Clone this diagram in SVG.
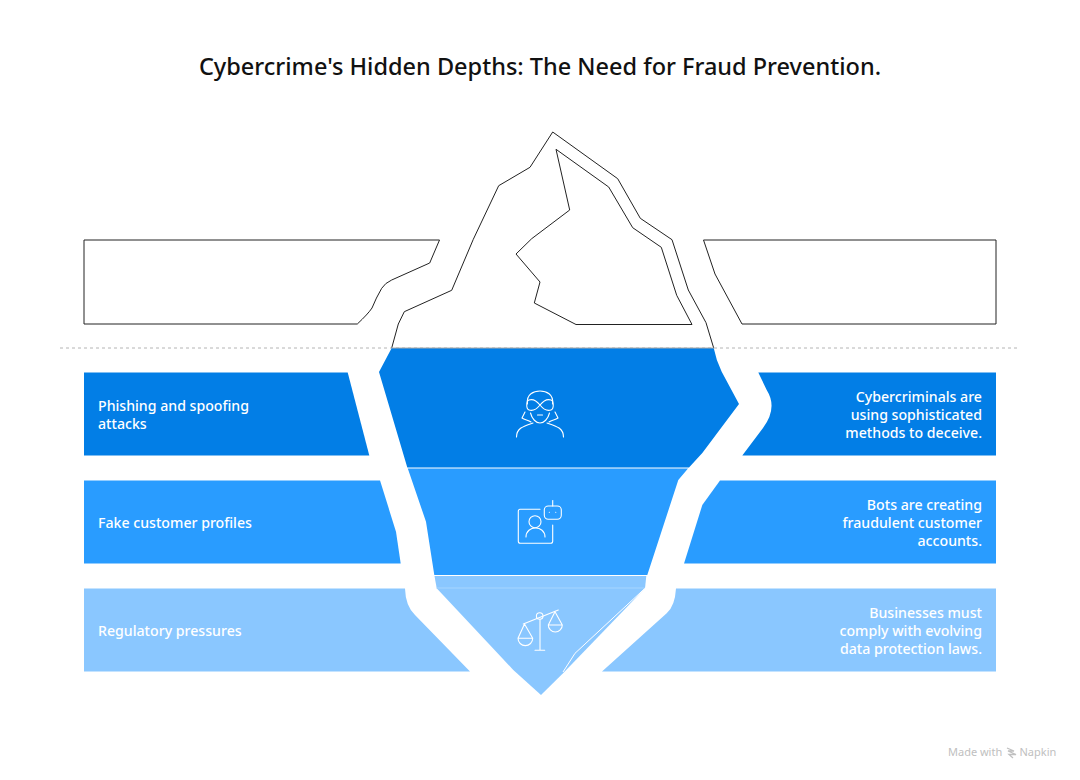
<svg xmlns="http://www.w3.org/2000/svg" width="1080" height="780" viewBox="0 0 1080 780">
<style>
text{font-family:"Noto Sans","Open Sans","DejaVu Sans",sans-serif}
.t{font-size:23.5px;fill:#111;text-anchor:middle;font-weight:500}
.l{font-size:14.15px;fill:#fff;font-weight:500}
.r{text-anchor:end}
.ice{fill:#fff;stroke:#222;stroke-width:1;stroke-linejoin:round}
.ic{fill:none;stroke:#fff;stroke-width:1.1;stroke-linecap:round;stroke-linejoin:round}
.b1{fill:#027EE6}.b2{fill:#299CFF}.b3{fill:#8AC7FF}
</style>
<rect width="1080" height="780" fill="#fff"/>
<text class="t" x="540" y="75">Cybercrime's Hidden Depths: The Need for Fraud Prevention.</text>
<g id="iceberg">
<path class="ice" d="M391.7,348 L398.3,324 L404.3,311.7 L451.7,290.3 L473.3,239.3 L498.7,185.7 L530,167.3 L552.7,132 L617.7,178.7 L640.3,218.3 L672,239.7 L688.3,290 L706,322.7 L713.7,348"/>
<path class="ice" d="M556,149.3 L608.7,187 L632.7,227.7 L661.3,247.3 L676.7,295.3 L692,324.500 L576,324.500 L534.3,303 L540,282 L516,254 L531.7,238.7 L569.7,210 Z"/>
</g>
<g id="ice-left"><path class="ice" d="M84,240 H439.5 L429.7,263 L391.7,280 Q385,283 381.7,288.3 Q376,298 372,308 Q368,314 357.3,324 H84 Z"/></g>
<g id="ice-right"><path class="ice" d="M996,240 H703.5 L715,274 L742,324 H996 Z"/></g>
<g id="connectors"><line x1="60" y1="348" x2="1020" y2="348" stroke="#b4b4b4" stroke-width="1" stroke-dasharray="3 3"/></g>
<g id="center-1">
<path class="b1" d="M391.7,348 H713.7 Q716,360 721.7,371.7 L739,404 L702.3,453 L689,467.500 H407.3 L379,372 Z"/>
<line x1="392" y1="348" x2="714" y2="348" stroke="#aaa"/>
<g class="ic"><path d="M527.500,404 C526,394 534,391 540,391 C546,391 554,394 552.500,404"/><path d="M540,405 C536,400 532,399 529,400 C526,401 526,409 529,410 C532,411 536,410 540,405 C544,400 548,399 551,400 C554,401 554,409 551,410 C548,411 544,410 540,405 Z"/><path d="M530.500,413 C532,419 536,423 540,423 C544,423 548,419 549.500,413"/><path d="M537.500,415 H542.500"/><path d="M525,412 L522,418 C525,420 528,420 531,422"/><path d="M555,412 L558,418 C555,420 552,420 549,422"/><path d="M516.500,437 C516.500,428 524,426 533,423"/><path d="M563.500,437 C563.500,428 556,426 547,423"/></g>
</g>
<g id="center-2">
<path class="b2" d="M407.800,468.500 H688 L678.300,480 L647.300,575 H434.300 L426,521.700 Z"/>
<g class="ic"><path d="M540,509.300 H520.300 Q518.300,509.300 518.300,511.300 V541.300 Q518.300,543.300 520.300,543.300 H550.700 Q552.700,543.300 552.700,541.300 V525"/><circle cx="535" cy="521.700" r="6"/><path d="M526,537 C526,525 545,525 545,537"/><rect x="544.300" y="506" width="17" height="13.300" rx="4"/><path d="M552.700,500.500 V506"/><path d="M549.300,512.300 h.1 M555.700,512.300 h.1"/></g>
</g>
<g id="center-3">
<path class="b3" d="M434.500,576 H646.300 L645,588.300 L563.300,673 L541,695 L513.300,670 L436.700,588.300 Z"/>
<line x1="437" y1="588" x2="645" y2="588" stroke="#fff" stroke-opacity=".25"/>
<path d="M645,588.300 L575,653.300 L563,672" fill="none" stroke="#fff"/>
<g class="ic"><path d="M523.300,624 L558.300,610"/><circle cx="539.700" cy="616" r="3.300"/><path d="M540,619.300 V650.300 M535,650.300 H544.700"/><path d="M524.500,624 L518,638.300 H532.700 Z M518,638.300 A7.300,7.300 0 0 0 532.700,638.300"/><path d="M555,611.700 L548.300,625 H562.300 Z M548.300,625 A7,7 0 0 0 562.300,625"/></g>
</g>
<g id="left-1"><path class="b1" d="M84,372.500 H347.700 L369.300,455.500 H84 Z"/><text class="l" x="98" y="411">Phishing and spoofing</text><text class="l" x="98" y="429">attacks</text></g>
<g id="left-2"><path class="b2" d="M84,480.500 H380 L396,531.700 L400.700,563.500 H84 Z"/><text class="l" x="98" y="528">Fake customer profiles</text></g>
<g id="left-3"><path class="b3" d="M84,588.500 H405 Q405.500,606 415,615 L470,671.500 H84 Z"/><text class="l" x="98" y="636">Regulatory pressures</text></g>
<g id="right-1"><path class="b1" d="M758.300,372.500 H996 V455.500 H742.300 L763,428 Q778,408 766.700,390 Z"/><text class="l r" x="982" y="402">Cybercriminals are</text><text class="l r" x="982" y="420">using sophisticated</text><text class="l r" x="982" y="438">methods to deceive.</text></g>
<g id="right-2"><path class="b2" d="M720,480.500 H996 V563.500 H684 L702.300,505 Z"/><text class="l r" x="982" y="510">Bots are creating</text><text class="l r" x="982" y="528">fraudulent customer</text><text class="l r" x="982" y="546">accounts.</text></g>
<g id="right-3"><path class="b3" d="M676,588.500 H996 V671.500 H602 L666.700,613.300 Q675,606 676,588.500 Z"/><text class="l r" x="982" y="618">Businesses must</text><text class="l r" x="982" y="636">comply with evolving</text><text class="l r" x="982" y="654">data protection laws.</text></g>
<g id="footer"><text x="948" y="756" font-size="11" fill="#c0c0c0">Made with</text><path d="M1007,748 L1014,751 L1008,751 L1016,754.500 L1009,754.500 L1013,758" stroke="#c0c0c0" stroke-width="1.300" fill="none"/><text x="1019.500" y="756" font-size="11" fill="#c0c0c0">Napkin</text></g>
</svg>
